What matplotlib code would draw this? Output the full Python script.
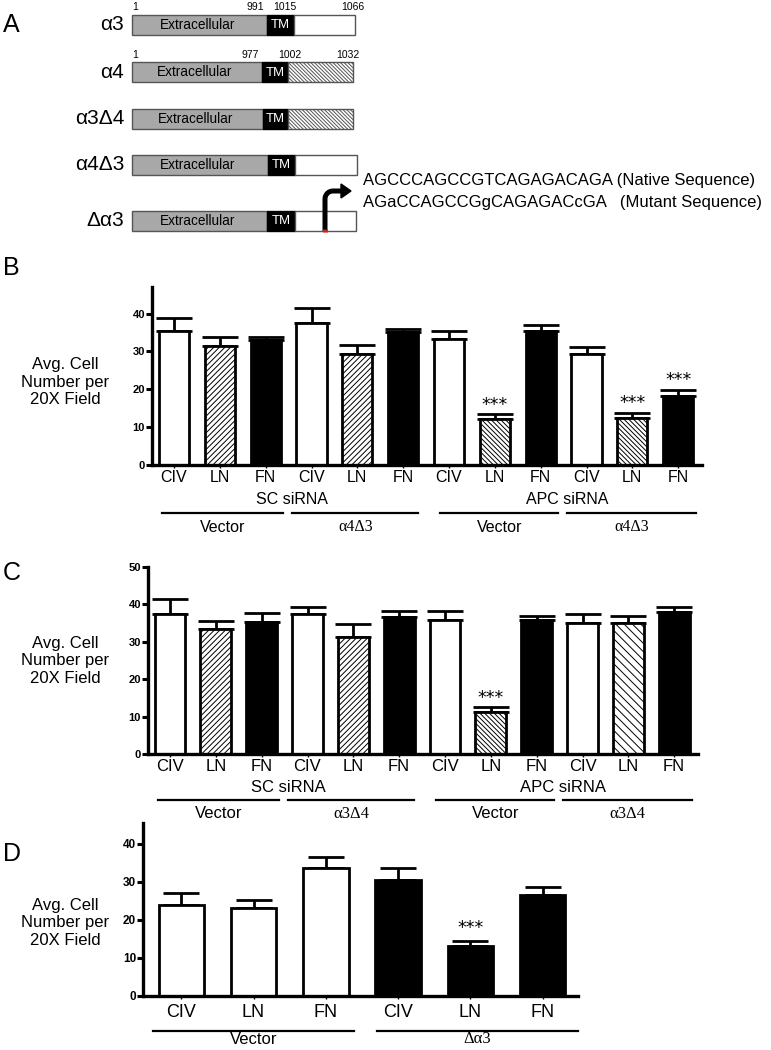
import matplotlib
matplotlib.use('Agg')
import matplotlib.pyplot as plt
import matplotlib.transforms as mtransforms
from matplotlib.patches import Rectangle, Polygon
import numpy as np

plt.rcParams['font.family'] = ['Liberation Sans', 'DejaVu Sans']
plt.rcParams['hatch.linewidth'] = 0.7

# ---------------- data ----------------
conditions = ["CIV", "LN", "FN"]

b_means = [35.5, 31.5, 32.9, 37.5, 29.4, 35.1, 33.3, 12.2, 35.5, 29.4, 12.4, 18.2]
b_errs = [3.2, 2.3, 0.8, 4.0, 2.4, 0.7, 2.0, 1.2, 1.4, 1.7, 1.4, 1.6]
b_sig = [7, 10, 11]
b_sirna = ["SC siRNA", "APC siRNA"]
b_groups = ["Vector", "α4Δ3", "Vector", "α4Δ3"]

c_means = [37.5, 33.5, 35.3, 37.3, 31.4, 36.6, 35.9, 11.1, 35.7, 35.0, 35.1, 38.1]
c_errs = [4.0, 2.0, 2.5, 2.0, 3.4, 1.6, 2.3, 1.4, 1.2, 2.5, 1.7, 1.2]
c_sig = [7]
c_sirna = ["SC siRNA", "APC siRNA"]
c_groups = ["Vector", "α3Δ4", "Vector", "α3Δ4"]

d_means = [24.0, 23.2, 33.7, 30.4, 13.2, 26.5]
d_errs = [2.9, 2.0, 2.9, 3.1, 1.3, 2.2]
d_sig = [4]
d_groups = ["Vector", "Δα3"]

ylabel = "Avg. Cell\nNumber per\n20X Field"

# ---------------- styles ----------------
WHITE = dict(color='white', hatch=None)
BLACK = dict(color='black', hatch=None)
HLN = dict(color='white', hatch='//////')
HDENSE = dict(color='white', hatch='\\' * 7)
HMED = dict(color='white', hatch='\\' * 4)

b_styles = [WHITE, HLN, BLACK, WHITE, HLN, BLACK, WHITE, HDENSE, BLACK, WHITE, HDENSE, BLACK]
c_styles = [WHITE, HLN, BLACK, WHITE, HLN, BLACK, WHITE, HDENSE, BLACK, WHITE, HMED, BLACK]
d_styles = [WHITE] * 3 + [BLACK] * 3

W, H = 771, 1050
fig = plt.figure(figsize=(W / 100, H / 100), dpi=100)


def axes_px(left, top, right, bottom):
    return fig.add_axes([left / W, 1 - bottom / H, (right - left) / W, (bottom - top) / H])


def below(ax, px):
    base = mtransforms.blended_transform_factory(ax.transData, ax.transAxes)
    return mtransforms.offset_copy(base, fig=fig, x=0, y=-px, units='dots')


def bar_panel(ax, means, errs, styles, sig, width, xlim, ylim, yticks, tickfs, ytfs, star_off, xpad):
    x = np.arange(len(means))
    for i, (m, s) in enumerate(zip(means, styles)):
        ax.bar(x[i], m, width=width, color=s['color'], edgecolor='black',
               linewidth=2.0, hatch=s['hatch'], zorder=2)
    ax.errorbar(x, means, yerr=[np.zeros(len(errs)), errs], fmt='none', ecolor='black',
                elinewidth=2.0, capsize=13, capthick=2.0, zorder=1)
    for i in sig:
        ax.annotate("***", (x[i], means[i] + errs[i]), xytext=(0, star_off),
                    textcoords='offset points', ha='center', va='center',
                    fontsize=12.5, family=['DejaVu Sans'])
    ax.set_xlim(*xlim)
    ax.set_ylim(*ylim)
    ax.set_yticks(yticks)
    ax.set_yticklabels([str(t) for t in yticks], fontsize=ytfs, fontweight='bold')
    ax.set_xticks(x)
    ax.set_xticklabels((conditions * 10)[:len(means)], fontsize=tickfs)
    for sp in ['top', 'right']:
        ax.spines[sp].set_visible(False)
    for sp in ['left', 'bottom']:
        ax.spines[sp].set_linewidth(2.4)
    ax.tick_params(axis='y', length=4, width=2.2, pad=1)
    ax.tick_params(axis='x', length=2, width=1.0, pad=xpad)
    ax.set_facecolor('none')


def group_labels(ax, sirna, groups, spans, fs, off_sirna, off_line, off_grp, sirna_x):
    if sirna:
        for name, sx in zip(sirna, sirna_x):
            ax.text(sx, 0, name, transform=below(ax, off_sirna), ha='center', va='center', fontsize=fs)
    for g, (a, b) in zip(groups, spans):
        ax.plot([a, b], [0, 0], color='black', lw=1.6, transform=below(ax, off_line), clip_on=False)
        fam = ['Liberation Serif', 'DejaVu Serif'] if ('α' in g) else ['Liberation Sans']
        ax.text((a + b) / 2, 0, g, transform=below(ax, off_grp), ha='center', va='center',
                fontsize=fs, family=fam)


# ---------------- panel B ----------------
axB = axes_px(152, 287, 702, 465)
bar_panel(axB, b_means, b_errs, b_styles, b_sig, 0.66, (-0.48, 11.52), (0, 47),
          [0, 10, 20, 30, 40], 11.5, 8, 7, 1.5)
spans12 = [(-0.26, 2.38), (2.58, 5.33), (5.81, 8.38), (8.58, 11.38)]
group_labels(axB, b_sirna, b_groups, spans12, 11.5, 35, 48, 62, [2.58, 8.58])

# ---------------- panel C ----------------
axC = axes_px(148, 567, 698, 754)
bar_panel(axC, c_means, c_errs, c_styles, c_sig, 0.67, (-0.48, 11.52), (0, 50),
          [0, 10, 20, 30, 40, 50], 12, 8, 7, 1.5)
group_labels(axC, c_sirna, c_groups, spans12, 12, 34, 46, 60, [2.58, 8.58])

# ---------------- panel D ----------------
axD = axes_px(143, 823, 578, 996)
bar_panel(axD, d_means, d_errs, d_styles, d_sig, 0.63, (-0.53, 5.49), (0, 45.4),
          [0, 10, 20, 30, 40], 13, 8.5, 9, 3.5)
group_labels(axD, None, d_groups, [(-0.39, 2.39), (2.71, 5.49)], 12, 0, 35, 43, None)

# ---------------- overlay (panel A diagram, letters, y labels) ----------------
ov = fig.add_axes([0, 0, 1, 1])
ov.set_xlim(0, W)
ov.set_ylim(H, 0)
ov.axis('off')
ov.patch.set_visible(False)

for letter, ly in [("A", 25), ("B", 268), ("C", 573), ("D", 854)]:
    ov.text(3, ly, letter, fontsize=18, ha='left', va='center')

for cy in [382, 661, 923]:
    ov.text(65, cy, ylabel, fontsize=12, ha='center', va='center', linespacing=1.2)

GRAY = '#a8a8a8'
rows = [
    ("α3", 15, 35, 267, 294, 355, False),
    ("α4", 62, 82, 262, 288, 353, True),
    ("α3Δ4", 109, 129, 263, 288, 353, True),
    ("α4Δ3", 155, 175, 268, 295, 357, False),
    ("Δα3", 211, 231, 267, 295, 356, False),
]
x0 = 132
for name, top, bot, g_end, tm_end, t_end, hatched in rows:
    h = bot - top
    ov.add_patch(Rectangle((x0, top), g_end - x0, h, facecolor=GRAY, edgecolor='#555555', lw=1.0))
    ov.add_patch(Rectangle((g_end, top), tm_end - g_end, h, facecolor='black', edgecolor='black', lw=1.0))
    ov.add_patch(Rectangle((tm_end, top), t_end - tm_end, h, facecolor='white', edgecolor='#555555',
                           lw=1.0, hatch='\\' * 9 if hatched else None))
    ov.text((x0 + g_end) / 2 - 2, (top + bot) / 2, "Extracellular", fontsize=9.8, ha='center', va='center')
    ov.text((g_end + tm_end) / 2, (top + bot) / 2 + 0.5, "TM", fontsize=9.5, ha='center', va='center',
            color='white')
    ov.text(124, (top + bot) / 2, name, fontsize=15, ha='right', va='center')

for txt, xx in [("1", 135), ("991", 255), ("1015", 285), ("1066", 353)]:
    ov.text(xx, 7, txt, fontsize=7.5, ha='center', va='center')
for txt, xx in [("1", 135), ("977", 250), ("1002", 290), ("1032", 348)]:
    ov.text(xx, 55, txt, fontsize=7.5, ha='center', va='center')

# bent arrow in the Δα3 construct
t = np.linspace(np.pi, np.pi * 1.5, 20)
ax_x = [325, 325] + list(333 + 8 * np.cos(t)) + [343]
ax_y = [231, 199] + list(199 + 8 * np.sin(t)) + [191]
ov.plot(ax_x, ax_y, color='black', lw=3.6, solid_capstyle='butt', solid_joinstyle='round')
ov.add_patch(Polygon([[341, 184], [351, 191], [341, 198]], closed=True, facecolor='black', edgecolor='black'))
ov.plot([325, 325], [229, 232], color='#d02020', lw=3.6, solid_capstyle='butt')

ov.text(363, 181, "AGCCCAGCCGTCAGAGACAGA (Native Sequence)", fontsize=12, ha='left', va='center')
ov.text(363, 203, "AGaCCAGCCGgCAGAGACcGA   (Mutant Sequence)", fontsize=12, ha='left', va='center')

fig.savefig("out.png", dpi=100)
